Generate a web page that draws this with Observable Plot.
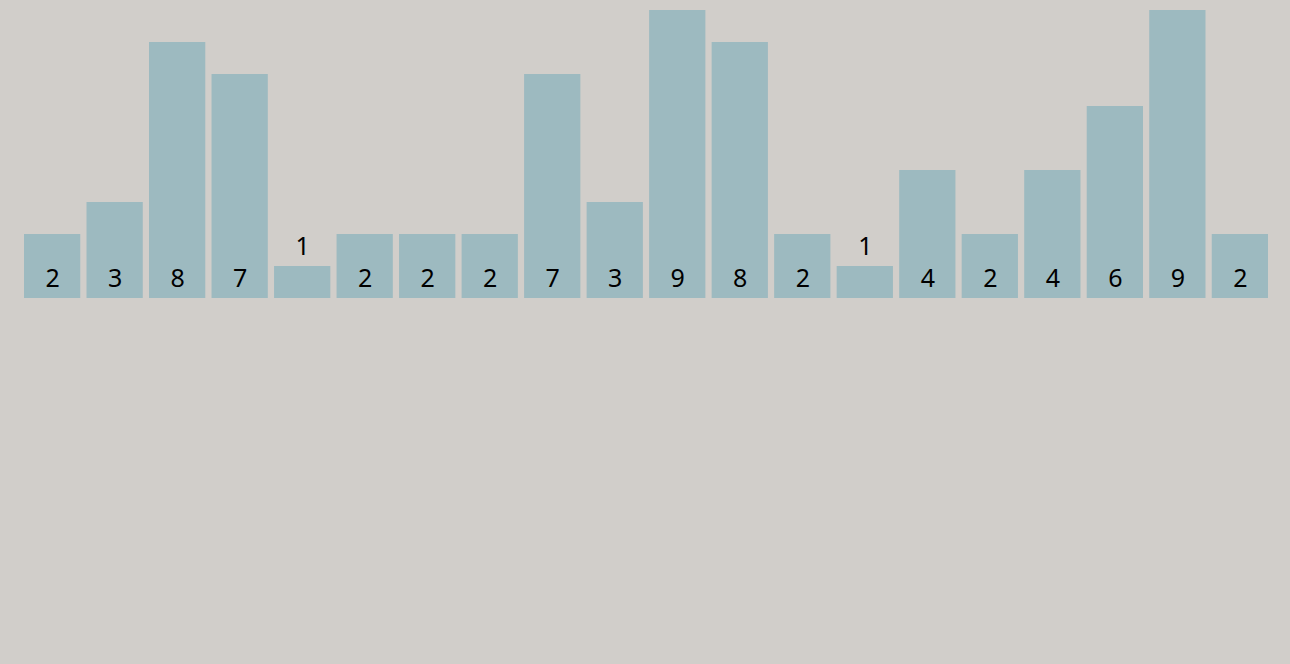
<!DOCTYPE html>
<html>
<head>
<meta charset="utf-8">
<script src="https://cdn.jsdelivr.net/npm/d3@7"></script>
<script src="https://cdn.jsdelivr.net/npm/@observablehq/plot@0.6"></script>
<style>
  html, body { margin: 0; padding: 0; background: #d1ceca; }
  #chart svg { display: block; }
</style>
</head>
<body>
<div id="chart"></div>
<script>
const categories = ["a1","a2","a3","a4","a5","a6","a7","a8","a9","a10","a11","a12","a13","a14","a15","a16","a17","a18","a19","a20"];
const values = [2, 3, 8, 7, 1, 2, 2, 2, 7, 3, 9, 8, 2, 1, 4, 2, 4, 6, 9, 2];

const data = categories.map((c, i) => ({cat: c, value: values[i]}));

const chart = Plot.plot({
  width: 1290,
  height: 308,
  marginTop: 10,
  marginBottom: 10,
  marginLeft: 24,
  marginRight: 22,
  style: {background: "#d1ceca", fontFamily: "'Noto Sans', sans-serif"},
  x: {domain: categories, paddingInner: 0.1, paddingOuter: 0, round: false, axis: null},
  y: {domain: [0, 9], axis: null},
  marks: [
    Plot.barY(data, {x: "cat", y: "value", fill: "#9dbac0"}),
    Plot.text(data, {
      x: "cat",
      y: d => d.value >= 2 ? 0 : d.value,
      text: d => String(d.value),
      lineAnchor: "bottom",
      dy: -12,
      fontSize: 25,
      fill: "black"
    })
  ]
});
document.getElementById("chart").append(chart);
</script>
</body>
</html>
